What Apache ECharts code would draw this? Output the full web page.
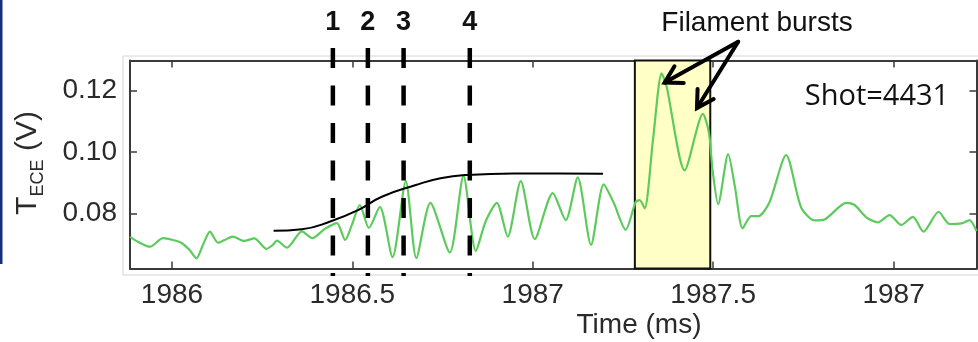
<!DOCTYPE html>
<html>
<head>
<meta charset="utf-8">
<script src="https://cdn.jsdelivr.net/npm/echarts@6/dist/echarts.min.js"></script>
<style>
  html, body { margin: 0; padding: 0; background: #ffffff; }
  #chart { width: 978px; height: 342px; }
</style>
</head>
<body>
<div id="chart"></div>
<script>
// ECE electron-temperature signal, shot 4431 (time in ms, signal in V)
const timeMs = [1985.8837,1985.9058,1985.9391,1985.9751,1986.0028,1986.0258,1986.0490,1986.0679,1986.0859,1986.1053,
  1986.1274,1986.1460,1986.1690,1986.1994,1986.2285,1986.2618,1986.2798,1986.2909,1986.3186,1986.3601,
  1986.3892,1986.4238,1986.4571,1986.4801,1986.4986,1986.5208,1986.5457,1986.5762,1986.6114,1986.6482,
  1986.6773,1986.7161,1986.7701,1986.8080,1986.8421,1986.8698,1986.9003,1986.9307,1986.9668,1987.0055,
  1987.0554,1987.0914,1987.1247,1987.1615,1987.1967,1987.2244,1987.2576,1987.2853,1987.2964,1987.3102,
  1987.3332,1987.3573,1987.3712,1987.4211,1987.4717,1987.4884,1987.4986,1987.5139,1987.5416,1987.5604,
  1987.5817,1987.6053,1987.6260,1987.6565,1987.7022,1987.7438,1987.7812,1987.8089,1987.8690,1987.8920,
  1987.9244,1987.9565,1987.9889,1988.0213,1988.0535,1988.0831,1988.1247,1988.1551,1988.1884,1988.2105,
  1988.2299];
const tece = [0.0723,0.0707,0.0691,0.0719,0.0713,0.0704,0.0680,0.0653,0.0697,0.0740,
  0.0704,0.0713,0.0724,0.0710,0.0718,0.0684,0.0697,0.0711,0.0688,0.0741,
  0.0719,0.0749,0.0768,0.0713,0.0762,0.0827,0.0752,0.0821,0.0657,0.0905,
  0.0654,0.0834,0.0672,0.0922,0.0677,0.0775,0.0834,0.0724,0.0905,0.0716,
  0.0866,0.0778,0.0917,0.0697,0.0894,0.0834,0.0746,0.0837,0.0843,0.0816,
  0.1039,0.1256,0.1212,0.0940,0.1124,0.1062,0.0938,0.0830,0.0993,0.0886,
  0.0751,0.0791,0.0791,0.0837,0.0990,0.0819,0.0777,0.0780,0.0834,0.0827,
  0.0787,0.0770,0.0794,0.0762,0.0788,0.0740,0.0805,0.0765,0.0767,0.0778,
  0.0742];

// smooth envelope of the pre-burst rise
const fitTime = [1986.2817,1986.3601,1986.4385,1986.5172,1986.5817,1986.6759,1986.7443,1986.8180,1986.9474,1987.0693,1987.1947];
const fitTece = [0.0743,0.0748,0.0773,0.0811,0.0854,0.0892,0.0914,0.0925,0.0930,0.0930,0.0929];

// numbered time markers
const markerTimes = [1986.446,1986.543,1986.642,1986.8255];
const markerLabels = ['1','2','3','4'];

// filament burst window
const burstWindow = [1987.283,1987.492];
// arrow annotation: common tail and two tips (data coordinates)
const arrowTail = [1987.5693,0.1359];
const arrowTips = [[1987.3657,0.1226],[1987.4551,0.1143]];

// axis ticks
const xTickValues = [1986,1986.5,1987,1987.5,1988];
const xTickLabels = ['1986','1986.5','1987','1987.5','1987'];
const yTickValues = [0.08,0.10,0.12];
const yTickLabels = ['0.08','0.10','0.12'];

const X_MIN = 1985.8837, X_MAX = 1988.2299;
const Y_MIN = 0.062, Y_MAX = 0.1298;

const FONT = '"Liberation Sans", Arial, sans-serif';
const AXIS_COLOR = '#3a3a3a';
const TEXT_COLOR = '#2a2a2a';

const lookup = (vals, labels) => v => {
  const i = vals.findIndex(t => Math.abs(t - v) < 1e-6);
  return i >= 0 ? labels[i] : '';
};

const chart = echarts.init(document.getElementById('chart'), null, { renderer: 'canvas' });

const frameAxis = (extra) => Object.assign({
  type: 'value',
  axisLine: { show: true, onZero: false, lineStyle: { color: AXIS_COLOR, width: 2 } },
  splitLine: { show: false }
}, extra);

const option = {
  animation: false,
  backgroundColor: '#ffffff',
  grid: [
    { left: 130, top: 60.5, right: 1.5, bottom: 73.5 },
    { left: 130, top: 48, right: 1.5, bottom: 66 }
  ],
  xAxis: [
    frameAxis({
      gridIndex: 0, position: 'bottom', min: X_MIN, max: X_MAX,
      axisTick: { show: true, inside: true, length: 7, customValues: xTickValues, lineStyle: { color: AXIS_COLOR, width: 1.5 } },
      axisLabel: { show: true, customValues: xTickValues, formatter: lookup(xTickValues, xTickLabels), margin: 13,
        fontSize: 28, fontFamily: FONT, color: TEXT_COLOR }
    }),
    frameAxis({
      gridIndex: 0, position: 'top', min: X_MIN, max: X_MAX,
      axisTick: { show: true, inside: true, length: 7, customValues: xTickValues, lineStyle: { color: AXIS_COLOR, width: 1.5 } },
      axisLabel: { show: false }
    }),
    { type: 'value', gridIndex: 1, min: X_MIN, max: X_MAX, show: false }
  ],
  yAxis: [
    frameAxis({
      gridIndex: 0, position: 'left', min: Y_MIN, max: Y_MAX,
      axisTick: { show: true, inside: true, length: 7, customValues: yTickValues, lineStyle: { color: AXIS_COLOR, width: 1.5 } },
      axisLabel: { show: true, customValues: yTickValues, formatter: lookup(yTickValues, yTickLabels), margin: 13,
        fontSize: 28, fontFamily: FONT, color: TEXT_COLOR }
    }),
    frameAxis({
      gridIndex: 0, position: 'right', min: Y_MIN, max: Y_MAX,
      axisTick: { show: true, inside: true, length: 7, customValues: yTickValues, lineStyle: { color: AXIS_COLOR, width: 1.5 } },
      axisLabel: { show: false }
    }),
    { type: 'value', gridIndex: 1, min: 0, max: 1, show: false }
  ],
  series: [
    {
      name: 'burst window', type: 'line', xAxisIndex: 0, yAxisIndex: 0, data: [], z: 1, silent: true,
      markArea: {
        silent: true,
        itemStyle: { color: '#ffffc6', borderColor: '#111111', borderWidth: 2 },
        data: [[{ xAxis: burstWindow[0] }, { xAxis: burstWindow[1] }]]
      }
    },
    {
      name: 'T_ECE', type: 'line', xAxisIndex: 0, yAxisIndex: 0, z: 3,
      data: timeMs.map((t, i) => [t, tece[i]]),
      symbol: 'none', smooth: 0.25,
      lineStyle: { color: '#5ccb5c', width: 2.2 }
    },
    {
      name: 'envelope', type: 'line', xAxisIndex: 0, yAxisIndex: 0, z: 4,
      data: fitTime.map((t, i) => [t, fitTece[i]]),
      symbol: 'none', smooth: 0.5,
      lineStyle: { color: '#000000', width: 2 }
    }
  ].concat(markerTimes.map((t, i) => ({
    name: 'marker ' + markerLabels[i], type: 'line', xAxisIndex: 2, yAxisIndex: 2, z: 5, clip: false,
    symbol: 'none',
    lineStyle: { color: '#000000', width: 4.5, type: [20, 17.5] },
    data: [[t, 1], [t, 0]]
  })))
};

chart.setOption(option);

// annotation graphics
const toPx = pt => chart.convertToPixel({ seriesIndex: 1 }, pt);
const tail = toPx(arrowTail);
const arrowEls = [];
arrowTips.forEach(tipData => {
  const tip = toPx(tipData);
  const ang = Math.atan2(tail[1] - tip[1], tail[0] - tip[0]);
  const len = 19, spread = Math.PI / 6;
  const a1 = [tip[0] + len * Math.cos(ang + spread), tip[1] + len * Math.sin(ang + spread)];
  const a2 = [tip[0] + len * Math.cos(ang - spread), tip[1] + len * Math.sin(ang - spread)];
  arrowEls.push({ type: 'line', z: 20, shape: { x1: tail[0], y1: tail[1], x2: tip[0], y2: tip[1] },
    style: { stroke: '#000', lineWidth: 4, lineCap: 'round' } });
  arrowEls.push({ type: 'polyline', z: 20, shape: { points: [a1, tip, a2] },
    style: { stroke: '#000', lineWidth: 4, lineJoin: 'miter', lineCap: 'round', fill: null } });
});

// number labels above each marker line
const markerTextEls = markerTimes.map((t, i) => {
  const top = chart.convertToPixel({ seriesIndex: 3 + i }, [t, 1]);
  return { type: 'text', z: 20, x: top[0], y: top[1] - 25,
    style: { text: markerLabels[i], font: 'bold 27px ' + FONT, fill: '#111', align: 'center', verticalAlign: 'middle' } };
});

chart.setOption({
  graphic: [
    { type: 'rect', z: -10, shape: { x: 0, y: 0, width: 2.5, height: 264 }, style: { fill: '#15307a' } },
    { type: 'rect', z: -10, shape: { x: 123, y: 56, width: 870, height: 219 }, style: { fill: null, stroke: '#d4d4d4', lineWidth: 1 } },
    { type: 'text', z: 20, x: 757, y: 23, style: { text: 'Filament bursts', font: '28px ' + FONT, fill: '#111', align: 'center', verticalAlign: 'middle' } },
    { type: 'text', z: 20, x: 877, y: 97, style: { text: 'Shot=4431', font: '29px "Open Sans", "Noto Sans", sans-serif', fill: '#111', align: 'center', verticalAlign: 'middle' } },
    { type: 'text', z: 20, x: 639, y: 325, style: { text: 'Time (ms)', font: '28px ' + FONT, fill: TEXT_COLOR, align: 'center', verticalAlign: 'middle' } },
    {
      type: 'group', x: 43, y: 215, rotation: Math.PI / 2,
      children: [
        { type: 'text', x: 0, y: 0, style: { text: 'T', font: '30px ' + FONT, fill: TEXT_COLOR, align: 'left', verticalAlign: 'bottom' } },
        { type: 'text', x: 18.5, y: 4, style: { text: 'ECE', font: '18px ' + FONT, fill: TEXT_COLOR, align: 'left', verticalAlign: 'bottom' } },
        { type: 'text', x: 64, y: 0, style: { text: '(V)', font: '30px ' + FONT, fill: TEXT_COLOR, align: 'left', verticalAlign: 'bottom' } }
      ]
    }
  ].concat(markerTextEls, arrowEls)
});
</script>
</body>
</html>
